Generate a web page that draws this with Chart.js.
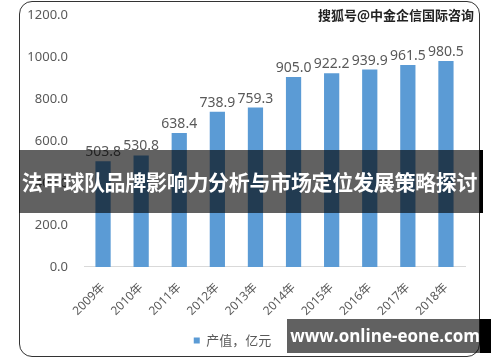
<!DOCTYPE html>
<html>
<head>
<meta charset="utf-8">
<script src="https://cdn.jsdelivr.net/npm/chart.js@4.4.0/dist/chart.umd.min.js"></script>
<style>
  body { margin: 0; background: #fff; }
  #wrap { position: relative; width: 500px; height: 362px; overflow: hidden; }
  canvas { display: block; }
  #frame { position: absolute; left: 19px; top: 1px; width: 459px; height: 354px;
    border: 1.5px solid #333; border-radius: 13px; pointer-events: none; }
  #banner { position: absolute; left: 19px; top: 150px; width: 461px; height: 63px;
    background: rgba(0,0,0,0.62); color: #fff; font: bold 21px "Noto Sans CJK SC";
    line-height: 63px; text-align: center; white-space: nowrap; letter-spacing: -0.3px; }
  #bannerEdge { position: absolute; left: 480px; top: 150px; width: 3px; height: 63px; background: #000; }
  #site { position: absolute; left: 287px; top: 319px; width: 193px; height: 34px;
    background: rgba(0,0,0,0.62); color: #fff; font: bold 17px "Open Sans";
    line-height: 34px; text-align: right; white-space: nowrap; }
  #siteEdge { position: absolute; left: 480px; top: 319px; width: 11px; height: 34px; background: #000; }
  #mark { position: absolute; left: 318px; top: 5px; font: bold 13px "Noto Sans CJK SC"; color: #222; }
</style>
</head>
<body>
<div id="wrap">
  <canvas id="chart" width="500" height="362"></canvas>
  <div id="frame"></div>
  <div id="mark">搜狐号@中金企信国际咨询</div>
  <div id="banner">法甲球队品牌影响力分析与市场定位发展策略探讨</div>
  <div id="bannerEdge"></div>
  <div id="site">www.online-eone.com</div>
  <div id="siteEdge"></div>
</div>
<script>
const years = ['2009年', '2010年', '2011年', '2012年', '2013年', '2014年', '2015年', '2016年', '2017年', '2018年'];
const output = [503.8, 530.8, 638.4, 738.9, 759.3, 905.0, 922.2, 939.9, 961.5, 980.5];
const seriesName = '产值，亿元';

// value labels above each bar
const valueLabels = {
  id: 'valueLabels',
  afterDatasetsDraw(chart) {
    const ctx = chart.ctx;
    const meta = chart.getDatasetMeta(0);
    ctx.save();
    ctx.font = '14px "Noto Sans", "Noto Sans CJK SC"';
    ctx.fillStyle = '#595959';
    ctx.textAlign = 'center';
    ctx.textBaseline = 'bottom';
    meta.data.forEach((bar, i) => {
      ctx.fillText(output[i].toFixed(1), bar.x, bar.y - 2);
    });
    ctx.restore();
  }
};

const ctx = document.getElementById('chart').getContext('2d');
new Chart(ctx, {
  type: 'bar',
  data: {
    labels: years,
    datasets: [{
      label: seriesName,
      data: output,
      backgroundColor: '#5B9BD5',
      categoryPercentage: 1.0,
      barPercentage: 0.4
    }]
  },
  options: {
    responsive: false,
    animation: false,
    layout: { padding: { left: 0, right: 35, top: 15, bottom: 5 } },
    plugins: {
      legend: {
        position: 'bottom',
        labels: {
          boxWidth: 6, boxHeight: 6, color: '#595959',
          font: { size: 13, family: '"Noto Sans CJK SC"' }
        }
      },
      tooltip: { enabled: false }
    },
    scales: {
      x: {
        grid: { display: false },
        border: { color: '#D9D9D9' },
        ticks: {
          minRotation: 45, maxRotation: 45, color: '#595959', padding: 5.5,
          font: { size: 12, family: '"Noto Sans", "Noto Sans CJK SC"' }
        }
      },
      y: {
        min: 0, max: 1200,
        afterFit(scale) { scale.width = 84; },
        grid: { display: false, tickLength: 13 },
        border: { display: false },
        ticks: {
          stepSize: 200, padding: 3, color: '#595959',
          font: { size: 13, family: '"Noto Sans", "Noto Sans CJK SC"' },
          callback: v => v.toFixed(1)
        }
      }
    }
  },
  plugins: [valueLabels]
});
</script>
</body>
</html>
